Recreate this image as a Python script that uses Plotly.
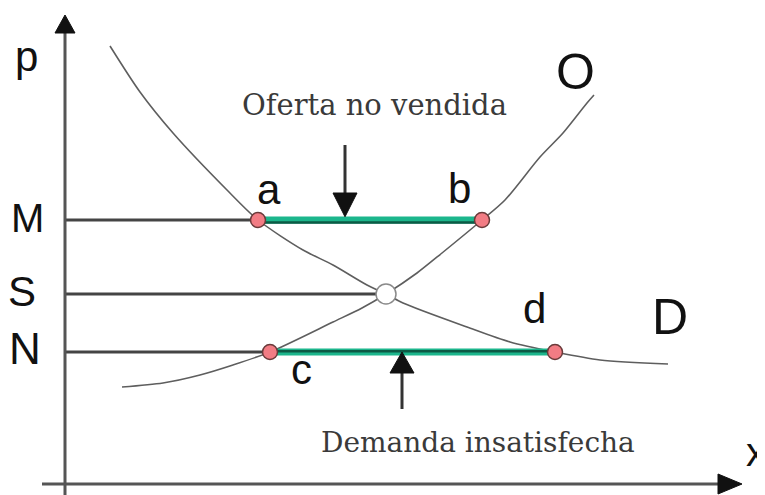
import plotly.graph_objects as go

# ---- data (quantity q, price p) ----
demand_q = [0.9, 1.5, 2.16, 3.24, 3.86, 4.76, 5.36, 6.04, 6.42, 6.76, 8.04, 8.9, 9.8, 10.7, 12.06]
demand_p = [10.95, 9.8, 8.775, 7.35, 6.6, 5.85, 5.475, 4.975, 4.75, 4.525, 3.925, 3.55, 3.3, 3.1, 3.0]
supply_q = [1.14, 1.96, 2.7, 3.36, 4.1, 5.36, 5.94, 6.42, 7.04, 7.54, 8.34, 8.8, 9.5, 9.96, 10.44, 10.58]
supply_p = [2.425, 2.525, 2.725, 2.975, 3.3, 4.05, 4.4, 4.75, 5.275, 5.775, 6.6, 7.1, 8.175, 8.775, 9.525, 9.725]

price_levels = {"M": 6.6, "S": 4.75, "N": 3.3}
pt_labels = ["a", "b", "c", "d"]
pt_q = [3.86, 8.34, 4.1, 9.8]
pt_p = [6.6, 6.6, 3.3, 3.3]
eq_q, eq_p = 6.42, 4.75

fig = go.Figure()

curve_col = "#5e5e5e"
fig.add_trace(go.Scatter(x=demand_q, y=demand_p, mode="lines", line=dict(color=curve_col, width=1.6, shape="spline", smoothing=0.8), hoverinfo="skip"))
fig.add_trace(go.Scatter(x=supply_q, y=supply_p, mode="lines", line=dict(color=curve_col, width=1.6, shape="spline", smoothing=0.8), hoverinfo="skip"))

# horizontal reference lines
hl_col = "#444444"
fig.add_trace(go.Scatter(x=[0, pt_q[0]], y=[price_levels["M"]] * 2, mode="lines", line=dict(color=hl_col, width=3), hoverinfo="skip"))
fig.add_trace(go.Scatter(x=[0, eq_q], y=[price_levels["S"]] * 2, mode="lines", line=dict(color=hl_col, width=3), hoverinfo="skip"))
fig.add_trace(go.Scatter(x=[0, pt_q[2]], y=[price_levels["N"]] * 2, mode="lines", line=dict(color=hl_col, width=3), hoverinfo="skip"))

# green bars
for (i, j, dark_off) in [(0, 1, -0.06), (2, 3, 0.02)]:
    fig.add_trace(go.Scatter(x=[pt_q[i], pt_q[j]], y=[pt_p[i], pt_p[j]], mode="lines",
                             line=dict(color="#1cb68c", width=7), hoverinfo="skip"))
    fig.add_trace(go.Scatter(x=[pt_q[i], pt_q[j]], y=[pt_p[i] + dark_off, pt_p[j] + dark_off], mode="lines",
                             line=dict(color="#0c5a45", width=2.5), hoverinfo="skip"))

# points
fig.add_trace(go.Scatter(x=pt_q, y=pt_p, mode="markers",
                         marker=dict(size=15, color="#f27c84", line=dict(color="#6a3a3a", width=1.5)), hoverinfo="skip"))
fig.add_trace(go.Scatter(x=[eq_q], y=[eq_p], mode="markers",
                         marker=dict(size=20, color="white", line=dict(color="#8a8a8a", width=1.5)), hoverinfo="skip"))

shapes = []
ax_col = "#555555"
# axes
shapes.append(dict(type="line", xref="x", yref="y", x0=0, x1=0, y0=-0.4, y1=11.3, line=dict(color=ax_col, width=3)))
shapes.append(dict(type="line", xref="x", yref="y", x0=-0.46, x1=13.1, y0=0, y1=0, line=dict(color=ax_col, width=3)))
shapes.append(dict(type="path", xref="x", yref="y", path="M -0.2,11.275 L 0,11.725 L 0.2,11.275 Z", fillcolor="#111111", line=dict(color="#111111", width=1)))
shapes.append(dict(type="path", xref="x", yref="y", path="M 13.06,0.25 L 13.54,0 L 13.06,-0.25 Z", fillcolor="#111111", line=dict(color="#111111", width=1)))
# annotation arrows
arr_col = "#333333"
shapes.append(dict(type="line", xref="x", yref="y", x0=5.6, x1=5.6, y0=8.475, y1=7.2, line=dict(color=arr_col, width=3)))
shapes.append(dict(type="path", xref="x", yref="y", path="M 5.36,7.275 L 5.6,6.68 L 5.84,7.275 Z", fillcolor="#111111", line=dict(color="#111111", width=1)))
shapes.append(dict(type="line", xref="x", yref="y", x0=6.74, x1=6.74, y0=1.875, y1=2.85, line=dict(color=arr_col, width=3)))
shapes.append(dict(type="path", xref="x", yref="y", path="M 6.5,2.775 L 6.74,3.3 L 6.98,2.775 Z", fillcolor="#111111", line=dict(color="#111111", width=1)))

annotations = []
def lab(text, q, p, size, color="#111111", family="Liberation Sans"):
    annotations.append(dict(text=text, x=q, y=p, xref="x", yref="y", showarrow=False,
                            xanchor="center", yanchor="middle",
                            font=dict(family=family, size=size, color=color)))

# label positions (axis units)
lab("p", -0.78, 10.7, 42)
lab("M", -0.76, 6.64, 40)
lab("S", -0.86, 4.825, 42)
lab("N", -0.8, 3.4, 44)
lab("a", 4.08, 7.36, 42)
lab("b", 7.89, 7.4, 42)
lab("c", 4.72, 2.875, 42)
lab("d", 9.38, 4.4, 42)
lab("x", 13.82, 0.8, 40)
lab("O", 10.2, 10.3, 50)
lab("D", 12.1, 4.17, 50)
lab("Oferta no vendida", 6.18, 9.475, 29, color="#3a3a3a", family="DejaVu Serif")
lab("Demanda insatisfecha", 8.26, 1.05, 28, color="#3a3a3a", family="DejaVu Serif")

# the page body has an 8px margin, so ranges are shifted by 8px to compensate
fig.update_layout(
    width=765, height=495, autosize=False,
    margin=dict(l=0, r=0, t=0, b=0, pad=0),
    paper_bgcolor="white", plot_bgcolor="white",
    showlegend=False,
    xaxis=dict(range=[-1.14, 14.16], visible=False, fixedrange=True),
    yaxis=dict(range=[-0.475, 11.9], visible=False, fixedrange=True),
    shapes=shapes, annotations=annotations,
)

fig.write_html("out.html")
